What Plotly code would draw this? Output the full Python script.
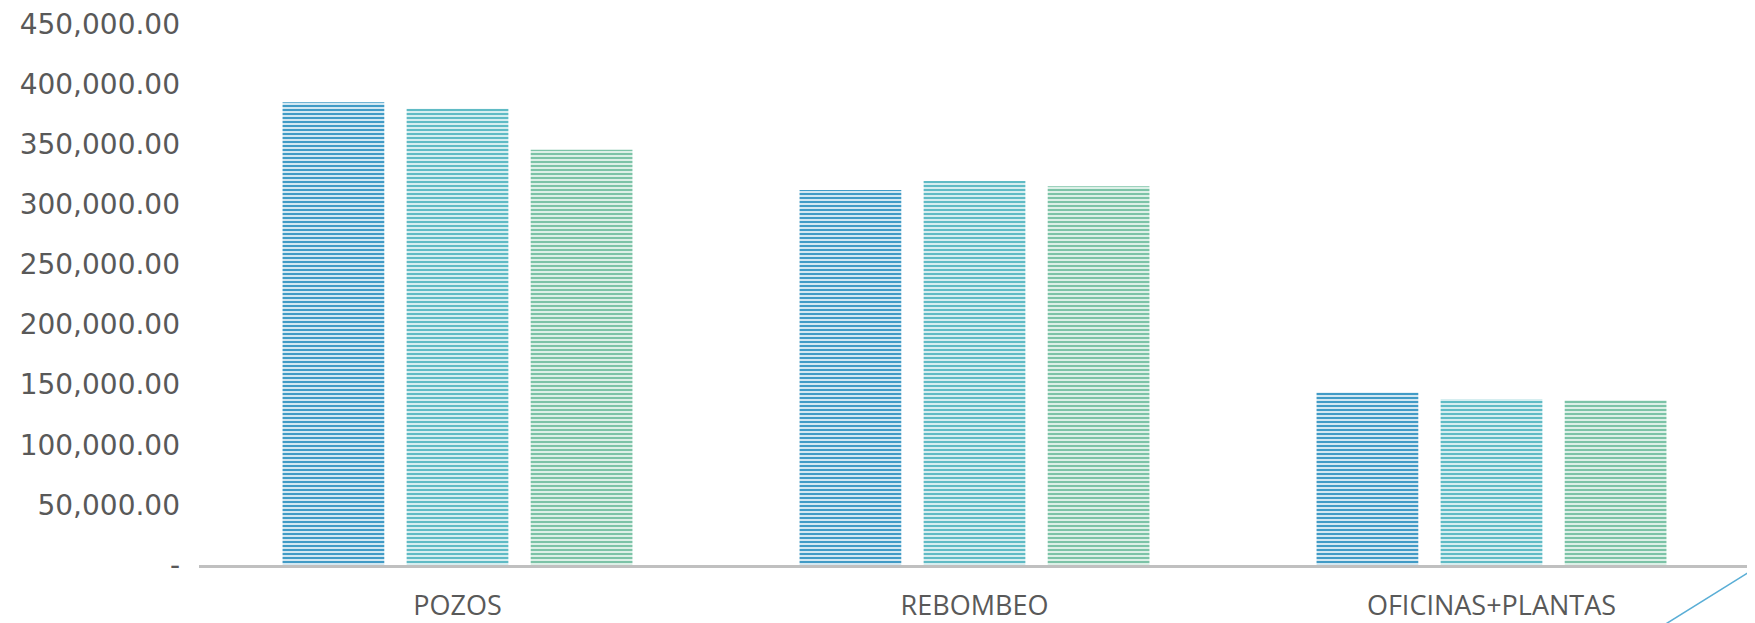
import plotly.graph_objects as go

categories = ["POZOS", "REBOMBEO", "OFICINAS+PLANTAS"]
series_a = [385000, 312000, 143500]
series_b = [379500, 319500, 138000]
series_c = [345500, 315000, 137000]
series_names = ["Serie 1", "Serie 2", "Serie 3"]
tick_vals = [0, 50000, 100000, 150000, 200000, 250000, 300000, 350000, 400000, 450000]
tick_text = ["-", "50,000.00", "100,000.00", "150,000.00", "200,000.00", "250,000.00",
             "300,000.00", "350,000.00", "400,000.00", "450,000.00"]

fg_colors = ["#419bc6", "#60bbc5", "#7cc3a7"]
bg_colors = ["#d3e8f2", "#d6eef0", "#dcf0e7"]

fig = go.Figure()
for vals, name, fg, bg in zip([series_a, series_b, series_c], series_names, fg_colors, bg_colors):
    fig.add_trace(go.Bar(
        x=categories, y=vals, name=name,
        marker=dict(
            color=bg,
            line=dict(width=0),
            pattern=dict(shape="-", fgcolor=fg, bgcolor=bg, size=4, solidity=0.5, fillmode="replace"),
        ),
    ))

fig.update_layout(
    width=1755, height=623,
    margin=dict(l=191, r=13, t=16, b=66),
    paper_bgcolor="white", plot_bgcolor="white",
    barmode="group", bargap=0.28, bargroupgap=0.18,
    showlegend=False,
    xaxis=dict(
        automargin=False,
        showline=True, linecolor="#c0c0c0", linewidth=3,
        showgrid=False, ticks="", ticklabelstandoff=15,
        tickfont=dict(family="Open Sans", size=27, color="#595959"),
    ),
    yaxis=dict(
        automargin=False,
        range=[0, 450000], showgrid=False, zeroline=False, showline=False,
        tickvals=tick_vals, ticktext=tick_text, ticks="", ticklabelstandoff=18,
        ticklabeloverflow="allow",
        tickfont=dict(family="DejaVu Sans", size=28, color="#595959"),
    ),
)

fig.add_shape(type="line", xref="paper", yref="paper",
              x0=1.0006, y0=-0.011, x1=0.939, y1=-0.121,
              line=dict(color="#5aaed6", width=1.5))

fig.write_html("out.html")
